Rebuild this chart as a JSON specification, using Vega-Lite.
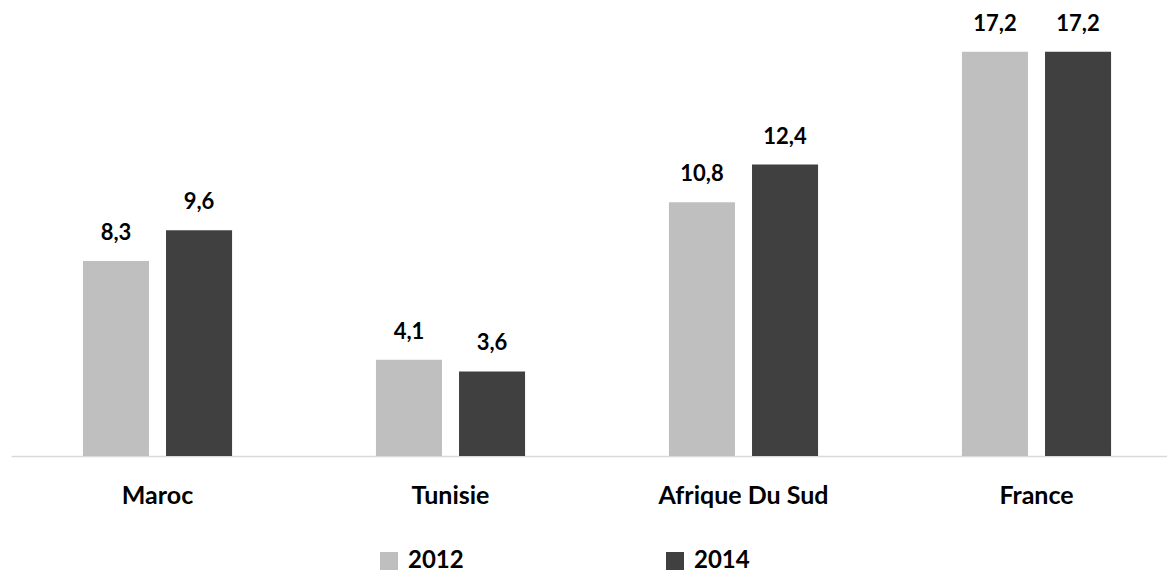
{
  "$schema": "https://vega.github.io/schema/vega-lite/v6.json",
  "width": 1172,
  "height": 456,
  "autosize": {"type": "none"},
  "padding": {"left": 11, "top": 0, "right": 0, "bottom": 120},
  "background": "white",
  "config": {
    "view": {"stroke": null},
    "locale": {"number": {"decimal": ",", "thousands": " ", "grouping": [3], "currency": ["", " €"]}},
    "font": "Lato"
  },
  "data": {
    "values": [
      {"pays": "Maroc", "annee": "2012", "valeur": 8.3},
      {"pays": "Maroc", "annee": "2014", "valeur": 9.6},
      {"pays": "Tunisie", "annee": "2012", "valeur": 4.1},
      {"pays": "Tunisie", "annee": "2014", "valeur": 3.6},
      {"pays": "Afrique Du Sud", "annee": "2012", "valeur": 10.8},
      {"pays": "Afrique Du Sud", "annee": "2014", "valeur": 12.4},
      {"pays": "France", "annee": "2012", "valeur": 17.2},
      {"pays": "France", "annee": "2014", "valeur": 17.2}
    ]
  },
  "encoding": {
    "x": {
      "field": "pays", "type": "nominal", "sort": null,
      "scale": {"paddingInner": 0.491, "paddingOuter": 0.2455},
      "axis": {
        "title": null, "labelAngle": 0, "ticks": false,
        "domainColor": "#D9D9D9", "domainWidth": 1.5,
        "labelFont": "Lato", "labelFontWeight": "bold", "labelFontSize": 25,
        "labelColor": "#000000", "labelPadding": 27
      }
    },
    "xOffset": {"field": "annee", "type": "nominal", "scale": {"paddingInner": 0.205}},
    "y": {
      "field": "valeur", "type": "quantitative",
      "scale": {"domain": [0, 19.4], "nice": false},
      "axis": null
    }
  },
  "layer": [
    {
      "mark": {"type": "bar"},
      "encoding": {
        "color": {
          "field": "annee", "type": "nominal",
          "scale": {"domain": ["2012", "2014"], "range": ["#BFBFBF", "#404040"]},
          "legend": {
            "title": null, "orient": "none", "direction": "horizontal",
            "legendX": 366, "legendY": 549,
            "symbolType": "square", "symbolSize": 324, "symbolStrokeWidth": 0,
            "labelFont": "Lato", "labelFontWeight": "bold", "labelFontSize": 24,
            "labelColor": "#000000", "labelOffset": 7, "columnPadding": 199
          }
        }
      }
    },
    {
      "mark": {"type": "text", "baseline": "alphabetic", "dy": -21, "font": "Lato", "fontWeight": "bold", "fontSize": 22, "color": "#000000"},
      "encoding": {
        "text": {"field": "valeur", "type": "quantitative", "format": ".1f"}
      }
    }
  ]
}
